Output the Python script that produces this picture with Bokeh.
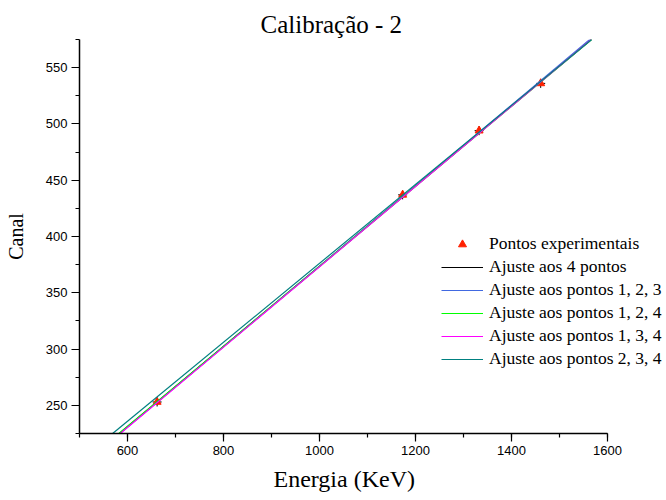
from bokeh.plotting import figure
from bokeh.models import Range1d, Legend, LegendItem, SingleIntervalTicker, Title
from bokeh.embed import file_html
from bokeh.resources import INLINE

# Experimental points
energy = [661.7, 1173.2, 1332.5, 1460.8]
canal = [253, 437, 494, 536]

# Fit lines (end points)
fit_labels = ["Ajuste aos 4 pontos", "Ajuste aos pontos 1, 2, 3",
              "Ajuste aos pontos 1, 2, 4", "Ajuste aos pontos 1, 3, 4",
              "Ajuste aos pontos 2, 3, 4"]
fit_energy = [[583, 1566], [584, 1563], [582, 1567], [585, 1566], [569, 1567]]
fit_canal = [[225, 575], [225, 575], [225, 575], [225, 575], [225, 575]]
fit_colors = ["#000000", "#4169e1", "#00ff00", "#ff00ff", "#008080"]

SERIF = "Liberation Serif"
SANS = "Liberation Sans"

# frame extends to the right edge so the legend is not clipped;
# the x axis itself is bounded to 500-1600
p = figure(width=666, height=500, output_backend="svg", toolbar_location=None,
           x_range=Range1d(500, 500 + 587 / 0.48), y_range=Range1d(225, 575),
           min_border_left=79, min_border_right=0, min_border_top=39,
           min_border_bottom=67)
p.outline_line_color = None
p.xgrid.visible = False
p.ygrid.visible = False
p.background_fill_color = "white"
p.border_fill_color = "white"

title = Title(text="Calibração - 2", text_font=SERIF, text_font_size="25px",
              text_font_style="normal", text_color="black", align="left",
              offset=181, standoff=4)
p.add_layout(title, "above")

xlab = Title(text="Energia (KeV)", text_font=SERIF, text_font_size="24px",
             text_font_style="normal", text_color="black", align="left",
             offset=194, standoff=12)
p.add_layout(xlab, "below")

p.xaxis.ticker = SingleIntervalTicker(interval=200, num_minor_ticks=2)
p.yaxis.ticker = SingleIntervalTicker(interval=50, num_minor_ticks=2)
p.xaxis.bounds = (500, 1600)
for ax in (p.xaxis, p.yaxis):
    ax.axis_line_width = 1.5
    ax.axis_line_color = "black"
    ax.major_tick_line_color = "black"
    ax.minor_tick_line_color = "black"
    ax.major_tick_line_width = 1.2
    ax.minor_tick_line_width = 1.2
    ax.major_tick_in = 0
    ax.minor_tick_in = 0
    ax.major_tick_out = 8
    ax.minor_tick_out = 4
    ax.major_label_text_font = SANS
    ax.major_label_text_font_size = "13px"
    ax.major_label_text_color = "black"
    ax.axis_label_text_font = SERIF
    ax.axis_label_text_font_style = "normal"
    ax.axis_label_text_color = "black"
    ax.major_label_standoff = 4
p.yaxis.axis_label = "Canal"
p.yaxis.axis_label_text_font_size = "20px"
p.yaxis.axis_label_standoff = 16

# point error crosses and markers
p.scatter(energy, canal, marker="cross", size=9, line_color="black", line_width=1)
pts = p.scatter(energy, canal, marker="triangle", size=8, fill_color="#ff2000",
                line_color="#ff2000")

items = [LegendItem(label="Pontos experimentais", renderers=[pts])]
for xs, ys, col, lab in zip(fit_energy, fit_canal, fit_colors, fit_labels):
    r = p.line(xs, ys, line_color=col, line_width=1.2)
    items.append(LegendItem(label=lab, renderers=[r]))

legend = Legend(items=items, location=(362, 64))
legend.border_line_color = None
legend.background_fill_alpha = 0
legend.label_text_font = SERIF
legend.label_text_font_size = "17.5px"
legend.label_text_color = "black"
legend.glyph_width = 42
legend.glyph_height = 20
legend.label_height = 20
legend.spacing = 2
legend.padding = 0
legend.margin = 0
legend.label_standoff = 6
p.add_layout(legend, "center")

open("out.html", "w").write(file_html(p, INLINE))
